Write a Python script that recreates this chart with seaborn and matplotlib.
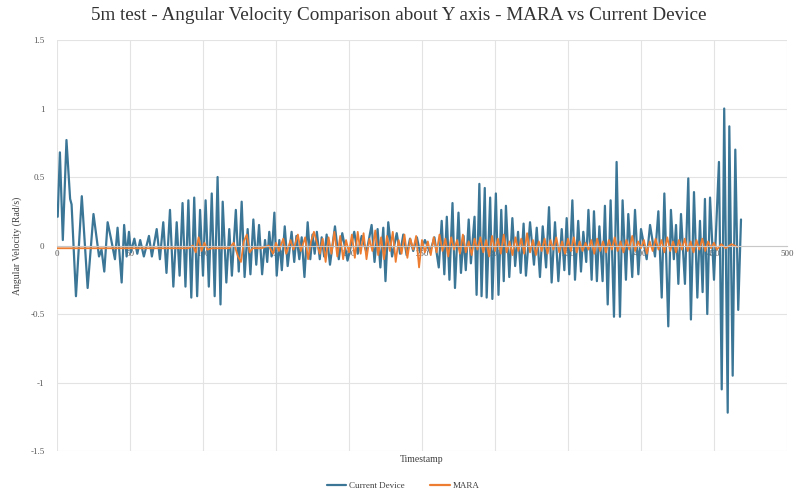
import matplotlib
matplotlib.use("Agg")
import matplotlib.pyplot as plt
from matplotlib.lines import Line2D
import seaborn as sns

# Current Device: turning points of the signal (timestamp, rad/s)
cd_t = [0.5, 2, 4, 6.5, 9, 10, 13, 17, 21, 25,
        28.8, 30.5, 32.4, 34.7, 37, 39.7, 41.5, 44.3, 46, 47.7,
        49.3, 50.6, 53, 55, 57, 59.5, 63, 65, 68.3, 70.5,
        72.8, 75, 77.4, 79.7, 82, 84, 86, 88, 90, 92,
        94, 96, 98, 100, 101.8, 104, 106, 108, 110, 112,
        113.5, 116, 118, 119.8, 122.5, 124.5, 126.5, 128.5, 130.6, 132.5,
        134.5, 136.5, 138.4, 140.5, 142.5, 144, 145.4, 147, 148.9, 150.5,
        152.3, 154, 156, 158, 160.7, 162.5, 164, 166, 167.6, 169.5,
        171.7, 173.5, 175, 176.5, 178, 180, 181.3, 183, 184.7, 187,
        190.4, 193, 195.4, 199, 203.6, 206, 208.7, 212, 215.5, 217.5,
        219.6, 221.5, 223.5, 225, 226.9, 229.5, 232.7, 235, 237.2, 239.5,
        241.8, 244, 246.5, 248.7, 252, 255.5, 258.5, 261.5, 263.5, 265.3,
        267, 268.8, 270.9, 272.6, 275, 276.7, 278.5, 280, 282, 283.5,
        286, 287.4, 289.3, 290.8, 293, 294.3, 296.7, 298.2, 300.6, 302.4,
        304.3, 306, 307.5, 309.8, 311.9, 313.8, 315.8, 317.6, 319.6, 321.2,
        324, 326.7, 328.6, 330.8, 332.7, 335, 337, 338.8, 341.1, 343.4,
        345.7, 347.5, 349.1, 350.9, 353, 354.8, 357, 358.9, 360.5, 362.5,
        364, 366.2, 367.8, 369.8, 371.5, 373.7, 375.3, 377.2, 379.2, 381.5,
        383.3, 385.6, 387.4, 389.7, 391.3, 394, 395.9, 398.2, 400, 403.9,
        406.2, 409.6, 411.9, 414.2, 416, 418.7, 420.5, 422.5, 424, 425.6,
        427.4, 430.1, 432.4, 434.2, 436.3, 438.6, 440.4, 442.2, 443.8, 445.4,
        447.3, 450, 453.4, 455.3, 457, 459.4, 460.5, 462.8, 464.6, 466.6,
        468.5]
cd_v = [0.21, 0.68, 0.04, 0.77, 0.34, 0.30, -0.37, 0.36, -0.31, 0.23,
        -0.08, -0.03, -0.19, 0.17, 0.05, -0.10, 0.13, -0.27, 0.15, -0.08,
        0.10, -0.05, 0.05, -0.06, 0.04, -0.08, 0.07, -0.08, 0.12, -0.10,
        0.17, -0.20, 0.26, -0.30, 0.17, -0.22, 0.31, -0.30, 0.33, -0.38,
        0.35, -0.37, 0.26, -0.22, 0.33, -0.30, 0.38, -0.37, 0.50, -0.43,
        0.32, -0.27, 0.12, -0.22, 0.26, -0.19, 0.32, -0.23, 0.12, -0.21,
        0.19, -0.14, 0.15, -0.21, 0.04, -0.12, 0.10, -0.08, 0.24, -0.22,
        0.04, -0.18, 0.14, -0.15, 0.10, -0.12, 0.07, -0.10, 0.06, -0.23,
        0.17, -0.10, 0.08, -0.06, 0.10, -0.10, 0.06, -0.08, 0.08, -0.14,
        0.14, -0.10, 0.09, -0.11, 0.10, -0.06, 0.07, -0.05, 0.15, -0.12,
        0.12, -0.16, 0.13, -0.26, 0.17, -0.08, 0.09, -0.06, 0.08, -0.07,
        0.05, -0.04, 0.06, -0.05, 0.04, -0.05, 0.06, -0.16, 0.18, -0.21,
        0.21, -0.25, 0.31, -0.31, 0.24, -0.20, 0.07, -0.18, 0.19, -0.13,
        0.21, -0.36, 0.45, -0.37, 0.42, -0.38, 0.35, -0.39, 0.38, -0.36,
        0.26, -0.26, 0.29, -0.23, 0.20, -0.15, 0.10, -0.20, 0.16, -0.22,
        0.17, -0.14, 0.13, -0.23, 0.14, -0.16, 0.28, -0.27, 0.17, -0.26,
        0.12, -0.18, 0.20, -0.21, 0.33, -0.25, 0.18, -0.19, 0.10, -0.12,
        0.26, -0.25, 0.25, -0.26, 0.14, -0.26, 0.29, -0.43, 0.33, -0.52,
        0.61, -0.52, 0.33, -0.25, 0.23, -0.23, 0.26, -0.21, 0.12, -0.10,
        0.15, -0.08, 0.25, -0.38, 0.38, -0.59, 0.26, -0.10, 0.15, -0.28,
        0.23, -0.28, 0.49, -0.54, 0.39, -0.38, 0.18, -0.34, 0.34, -0.50,
        0.35, -0.25, 0.61, -1.05, 1.00, -1.22, 0.87, -0.95, 0.70, -0.47,
        0.19]

# MARA
mara_t = [0, 90, 93, 95, 97, 99, 101, 103, 106, 118,
          121, 124, 126, 128, 130, 132, 134, 140, 145, 148,
          150, 152, 155, 157, 160, 162, 165, 167, 170, 172,
          174, 176, 178, 180, 182, 184, 186, 188, 190, 192,
          194, 196, 198, 200, 202, 204, 206, 208, 210, 212,
          214, 216, 218, 220, 222, 224, 226, 228, 230, 232,
          234, 236, 238, 240, 242, 244, 246, 248, 250, 252,
          254, 256, 258, 260, 262, 264, 266, 268, 270, 272,
          274, 276, 278, 280, 282, 284, 286, 288, 290, 292,
          294, 296, 298, 300, 302, 304, 306, 308, 310, 312,
          314, 316, 318, 320, 322, 324, 326, 328, 330, 332,
          334, 336, 338, 340, 342, 344, 346, 348, 350, 352,
          354, 356, 358, 360, 362, 364, 366, 368, 370, 372,
          374, 376, 378, 380, 382, 384, 386, 388, 390, 392,
          394, 396, 398, 400, 402, 404, 406, 408, 410, 412,
          414, 416, 418, 420, 422, 424, 426, 428, 430, 432,
          434, 436, 438, 440, 442, 444, 446, 448, 450, 452,
          455, 458, 462, 466]
mara_v = [-0.02, -0.02, 0.00, -0.05, 0.06, -0.04, 0.02, -0.03, -0.02, -0.02,
          0.02, -0.08, -0.12, 0.03, 0.08, -0.05, -0.02, -0.02, 0.00, -0.06,
          0.02, -0.04, 0.05, -0.06, 0.04, -0.03, 0.08, -0.04, 0.06, -0.10,
          0.03, 0.10, 0.02, -0.06, 0.05, -0.12, 0.06, -0.06, 0.10, -0.08,
          0.07, -0.10, 0.04, -0.05, 0.08, -0.09, 0.10, -0.06, 0.09, -0.10,
          0.05, -0.04, 0.11, -0.07, 0.06, -0.10, 0.07, -0.04, 0.10, -0.12,
          0.04, -0.06, 0.08, -0.09, 0.05, -0.03, 0.07, -0.16, 0.04, -0.05,
          0.03, -0.07, 0.06, -0.05, 0.08, -0.04, 0.05, -0.08, 0.06, -0.03,
          0.04, -0.06, 0.08, -0.05, 0.03, -0.07, 0.05, -0.03, 0.06, -0.05,
          0.04, -0.08, 0.07, -0.04, 0.05, -0.06, 0.08, -0.05, 0.03, -0.07,
          0.06, -0.04, 0.05, -0.06, 0.09, -0.05, 0.04, -0.07, 0.03, -0.04,
          0.05, -0.06, 0.04, -0.03, 0.06, -0.05, 0.03, -0.06, 0.05, -0.04,
          0.06, -0.05, 0.03, -0.04, 0.02, -0.03, 0.04, -0.06, 0.05, -0.04,
          0.03, -0.05, 0.04, -0.03, 0.06, -0.04, 0.03, -0.05, 0.04, -0.03,
          0.07, -0.04, 0.03, -0.02, 0.04, -0.06, 0.03, -0.04, 0.05, -0.03,
          0.04, -0.05, 0.06, -0.04, 0.03, -0.05, 0.04, -0.03, 0.05, -0.04,
          0.03, -0.05, 0.04, -0.03, 0.05, -0.04, 0.03, -0.02, 0.02, -0.03,
          0.01, -0.02, 0.01, -0.01]

x_ticks = [0, 50, 100, 150, 200, 250, 300, 350, 400, 450, 500]
y_ticks = [-1.5, -1, -0.5, 0, 0.5, 1, 1.5]
y_labels = ["-1.5", "-1", "-0.5", "0", "0.5", "1", "1.5"]

BLUE = "#3b7697"
ORANGE = "#ed7d31"
GREY = "#595959"

sns.set_theme(style="white")
plt.rcParams["font.family"] = ["Liberation Serif", "DejaVu Serif"]

fig = plt.figure(figsize=(7.98, 4.94), dpi=100)
ax = fig.add_axes([0.0714, 0.087, 0.9148, 0.832])

sns.lineplot(x=cd_t, y=cd_v, sort=False, estimator=None, color=BLUE,
             linewidth=1.6, ax=ax)
sns.lineplot(x=mara_t, y=mara_v, sort=False, estimator=None, color=ORANGE,
             linewidth=1.3, ax=ax)

ax.set_xlim(0, 500)
ax.set_ylim(-1.5, 1.5)
ax.set_xticks(x_ticks)
ax.set_yticks(y_ticks)
ax.set_yticklabels(y_labels)
ax.grid(True, color="#e3e3e3", linewidth=0.8)
ax.set_axisbelow(True)

for side in ["top", "right", "left"]:
    ax.spines[side].set_visible(False)
ax.spines["bottom"].set_position(("data", 0))
ax.spines["bottom"].set_color("#c8c8c8")
ax.spines["bottom"].set_linewidth(0.8)

ax.tick_params(axis="x", length=0, pad=3, labelsize=6.5, labelcolor=GREY)
ax.tick_params(axis="y", length=0, pad=9, labelsize=6.5, labelcolor=GREY)

ax.set_xlabel("Timestamp", fontsize=7, color="#404040")
ax.xaxis.set_label_coords(0.5, -0.01)
ax.set_ylabel("Angular Velocity (Rad/s)", fontsize=7, color="#404040")
ax.yaxis.set_label_coords(-0.048, 0.5)

fig.text(0.5, 1 - 16 / 494,
         "5m test - Angular Velocity Comparison about Y axis - MARA vs Current Device",
         ha="center", va="center", fontsize=13.8, color="#333333")

handles = [Line2D([], [], color=BLUE, linewidth=1.6),
           Line2D([], [], color=ORANGE, linewidth=1.6)]
fig.legend(handles, ["Current Device", "MARA"], loc="center",
           bbox_to_anchor=(0.505, 1 - 486 / 494), ncol=2, frameon=False,
           fontsize=6.5, handlelength=2.2, handletextpad=0.3,
           columnspacing=2.8, labelcolor="#404040")

fig.savefig("out.png", dpi=100)
plt.close(fig)
